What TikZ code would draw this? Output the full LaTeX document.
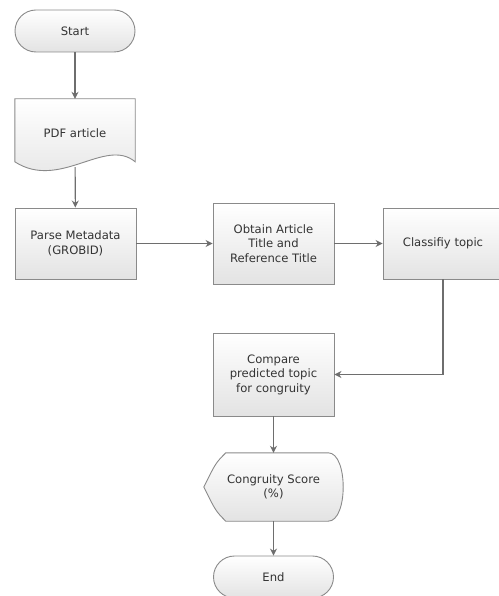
\documentclass[tikz,border=0pt]{standalone}
\usepackage{fontspec}
\setmainfont{DejaVu Sans}
\usepackage{tikz}
\usetikzlibrary{calc}
\usetikzlibrary{arrows.meta}
\usetikzlibrary{backgrounds}

\definecolor{edgegray}{HTML}{8A8A8A}
\definecolor{arrowgray}{HTML}{6E6E6E}
\definecolor{textgray}{HTML}{333333}

\tikzset{
    grad/.style={top color=white, bottom color=black!11, draw=edgegray, line width=0.9pt},
    txt/.style={align=center, text=textgray, font=\fontsize{11.6}{14.5}\selectfont},
    box/.style={grad, txt, rectangle},
    term/.style={box, rounded corners=21, minimum width=120, minimum height=42},
    arr/.style={draw=arrowgray, line width=1.1pt, -{Stealth[length=7pt,width=7pt]}}
}

\begin{document}
\begin{tikzpicture}[x=1pt, y=-1pt]
    \useasboundingbox (0,0) rectangle (498,596);

    \node[term] (start) at (75,31) {Start};

    \node[txt, minimum width=120, minimum height=68] (pdf) at (75,133) {PDF article};

    \node[box, minimum width=121, minimum height=71] (parse) at (75.5,243.5) {Parse Metadata\\(GROBID)};
    \node[box, minimum width=121, minimum height=81] (obtain) at (273.5,243.5) {Obtain Article\\Title and\\Reference Title};
    \node[box, minimum width=120, minimum height=71] (classify) at (443,243.5) {Classifiy topic};
    \node[box, minimum width=121, minimum height=83] (compare) at (273.5,374.5) {Compare\\predicted topic\\for congruity};

    \node[txt, minimum width=139, minimum height=68] (score) at (273.5,487) {Congruity Score\\(\%)};

    \node[term] (end) at (273.5,577) {End};

    \begin{scope}[on background layer]
    \draw[grad] (pdf.north west) -- (pdf.north east) -- ($(pdf.north east)+(0,63)$) .. controls ($(pdf.north east)+(-30,38)$) and ($(pdf.north west)+(45,92)$) .. ($(pdf.north west)+(0,63)$) -- cycle;
    \draw[grad] ($(score.north west)+(22,0)$) -- ($(score.north east)+(-15,0)$) .. controls ($(score.north east)+(5,0)$) and ($(score.south east)+(5,0)$) .. ($(score.south east)+(-15,0)$) -- ($(score.south west)+(22,0)$) .. controls ($(score.south west)+(12,-10)$) .. (score.west) .. controls ($(score.north west)+(12,10)$) .. cycle;
    \end{scope}

    \draw[arr] (start) -- (pdf);
    \draw[arr] (pdf) -- (parse);
    \draw[arr] (parse) -- (obtain);
    \draw[arr] (obtain) -- (classify);
    \draw[arr] (classify.south) |- (compare.east);
    \draw[arr] (compare) -- (score);
    \draw[arr] (score) -- (end);
\end{tikzpicture}
\end{document}
